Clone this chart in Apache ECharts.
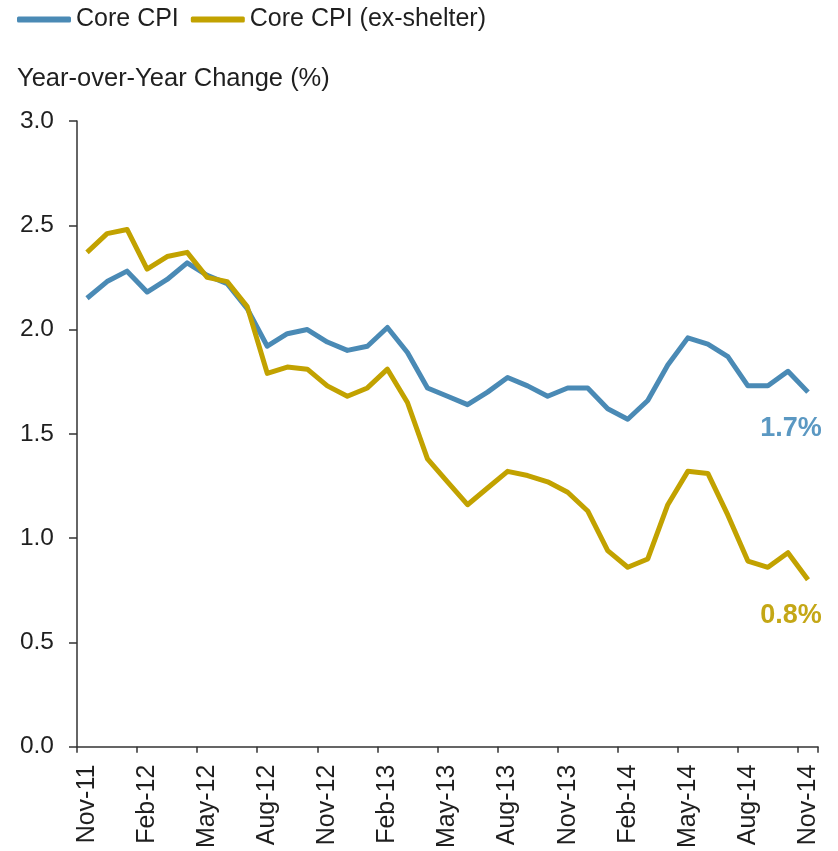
<!DOCTYPE html>
<html>
<head>
<meta charset="utf-8">
<script src="https://cdn.jsdelivr.net/npm/echarts@6/dist/echarts.min.js"></script>
<style>
  html, body { margin: 0; padding: 0; background: #ffffff; }
  #chart { width: 838px; height: 851px; }
</style>
</head>
<body>
<div id="chart"></div>
<script>
// Monthly categories, Nov-11 through Nov-14
const months = [
  'Nov-11', 'Dec-11', 'Jan-12', 'Feb-12', 'Mar-12', 'Apr-12', 'May-12', 'Jun-12', 'Jul-12',
  'Aug-12', 'Sep-12', 'Oct-12', 'Nov-12', 'Dec-12', 'Jan-13', 'Feb-13', 'Mar-13', 'Apr-13',
  'May-13', 'Jun-13', 'Jul-13', 'Aug-13', 'Sep-13', 'Oct-13', 'Nov-13', 'Dec-13', 'Jan-14',
  'Feb-14', 'Mar-14', 'Apr-14', 'May-14', 'Jun-14', 'Jul-14', 'Aug-14', 'Sep-14', 'Oct-14',
  'Nov-14'
];

// Year-over-year change, %
const coreCPI = [
  2.15, 2.23, 2.28, 2.18, 2.24, 2.32, 2.26, 2.22, 2.10, 1.92, 1.98, 2.00,
  1.94, 1.90, 1.92, 2.01, 1.89, 1.72, 1.68, 1.64, 1.70, 1.77, 1.73, 1.68,
  1.72, 1.72, 1.62, 1.57, 1.66, 1.83, 1.96, 1.93, 1.87, 1.73, 1.73, 1.80,
  1.70
];
const coreExShelter = [
  2.37, 2.46, 2.48, 2.29, 2.35, 2.37, 2.25, 2.23, 2.11, 1.79, 1.82, 1.81,
  1.73, 1.68, 1.72, 1.81, 1.65, 1.38, 1.27, 1.16, 1.24, 1.32, 1.30, 1.27,
  1.22, 1.13, 0.94, 0.86, 0.90, 1.16, 1.32, 1.31, 1.11, 0.89, 0.86, 0.93,
  0.80
];

const seriesNames = ['Core CPI', 'Core CPI (ex-shelter)'];
const yTitle = 'Year-over-Year Change (%)';

const FONT = '"Liberation Sans", Arial, sans-serif';
const BLUE = '#4a8ab5';
const GOLD = '#c2a200';
const INK = '#1f1f1f';

const chart = echarts.init(document.getElementById('chart'), null, { renderer: 'canvas' });

// Bold value tag placed just below the last point of each line
function endLabel(color) {
  return {
    show: true,
    formatter: p => Number(p.value).toFixed(1) + '%',
    color: color,
    fontFamily: FONT,
    fontSize: 27,
    fontWeight: 'bold',
    align: 'center',
    verticalAlign: 'middle',
    distance: 0,
    offset: [-17, 36]
  };
}

chart.setOption({
  backgroundColor: '#ffffff',
  animation: false,
  textStyle: { fontFamily: FONT },
  title: {
    text: yTitle,
    left: 17,
    top: 66,
    padding: 0,
    textStyle: { fontFamily: FONT, fontSize: 25.5, fontWeight: 'normal', color: INK }
  },
  legend: {
    data: seriesNames,
    left: 17,
    top: 7,
    padding: 0,
    itemWidth: 54,
    itemHeight: 6,
    itemGap: 12,
    icon: 'roundRect',
    textStyle: { fontFamily: FONT, fontSize: 25, color: INK }
  },
  grid: { left: 77, right: 20, top: 121, bottom: 100, containLabel: false },
  xAxis: {
    type: 'category',
    data: months,
    boundaryGap: true,
    axisLine: { show: true, lineStyle: { color: '#333333', width: 1.5 } },
    axisTick: { show: true, interval: 2, length: 6, lineStyle: { color: '#333333', width: 1.5 } },
    axisLabel: {
      interval: 2,
      rotate: 90,
      margin: 18,
      fontFamily: FONT,
      fontSize: 25,
      color: INK
    },
    splitLine: { show: false }
  },
  yAxis: {
    type: 'value',
    min: 0,
    max: 3,
    interval: 0.5,
    axisLine: { show: true, lineStyle: { color: '#333333', width: 1.5 } },
    axisTick: { show: true, inside: false, length: 8, lineStyle: { color: '#333333', width: 1.5 } },
    axisLabel: {
      margin: 23,
      fontFamily: FONT,
      fontSize: 24.5,
      color: INK,
      formatter: v => v.toFixed(1)
    },
    splitLine: { show: false }
  },
  series: [
    {
      name: seriesNames[0],
      type: 'line',
      data: coreCPI,
      showSymbol: false,
      symbol: 'none',
      lineStyle: { color: BLUE, width: 5, join: 'round' },
      itemStyle: { color: BLUE },
      endLabel: endLabel('#5b98c2')
    },
    {
      name: seriesNames[1],
      type: 'line',
      data: coreExShelter,
      showSymbol: false,
      symbol: 'none',
      lineStyle: { color: GOLD, width: 5, join: 'round' },
      itemStyle: { color: GOLD },
      endLabel: endLabel('#c4a716')
    }
  ]
});
</script>
</body>
</html>
